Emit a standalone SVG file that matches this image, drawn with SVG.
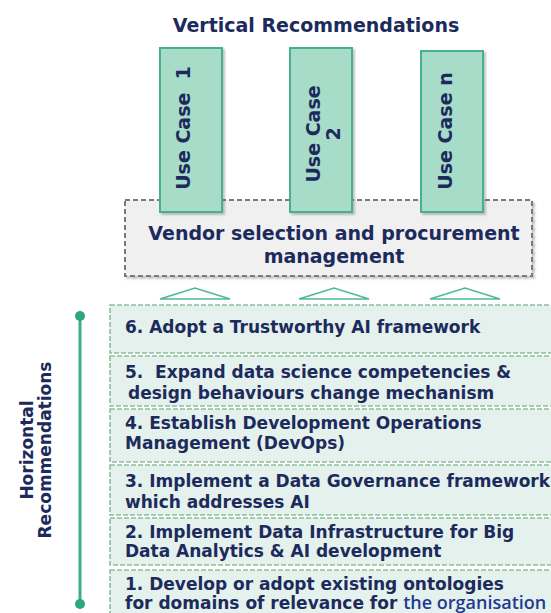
<svg xmlns="http://www.w3.org/2000/svg" width="551" height="613" viewBox="0 0 551 613">
  <defs>
    <filter id="shadow" x="-10%" y="-10%" width="130%" height="130%">
      <feDropShadow dx="2" dy="2" stdDeviation="1.2" flood-color="#555" flood-opacity="0.35"/>
    </filter>
    <style>
      .lbl { font-family: "DejaVu Sans", Verdana, sans-serif; font-weight: bold; fill: #1c2a5c; }
      .title { font-size: 19px; }
      .uc { font-size: 19px; }
      .bar-text { font-size: 17px; white-space: pre; }
      .side { font-size: 17px; }
      .usecase { fill: #a7dcc8; stroke: #46b08e; stroke-width: 2; }
      .vendor { fill: #f0f0f0; stroke: #7a7a7a; stroke-width: 2; stroke-dasharray: 5 3; }
      .bar { fill: #e4f1ed; stroke: #8cbf9c; stroke-width: 1.6; stroke-dasharray: 5 2; }
      .tri { fill: #ffffff; stroke: #4db89a; stroke-width: 1.6; }
      .axis { stroke: #3cae8c; stroke-width: 3; }
      .dot { fill: #2fa582; }
      .org { font-family: "Open Sans", "Liberation Sans", sans-serif; font-weight: 600; font-size: 18px; fill: #1f3a93; }
    </style>
  </defs>

  <rect width="551" height="613" fill="#ffffff"/>

  <!-- heading -->
  <text class="lbl title" x="316" y="32" text-anchor="middle">Vertical Recommendations</text>

  <!-- procurement layer -->
  <g id="vendor">
    <rect class="vendor" x="125" y="200" width="407" height="76" filter="url(#shadow)"/>
    <text class="lbl title" x="334" y="240" text-anchor="middle">Vendor selection and procurement</text>
    <text class="lbl title" x="334" y="263" text-anchor="middle">management</text>
  </g>

  <!-- vertical use cases -->
  <g id="usecase1">
    <rect class="usecase" x="160" y="48" width="62" height="164" filter="url(#shadow)"/>
    <text class="lbl uc" transform="translate(190,128) rotate(-90)" text-anchor="middle" xml:space="preserve">Use Case  1</text>
  </g>
  <g id="usecase2">
    <rect class="usecase" x="290" y="48" width="62" height="164" filter="url(#shadow)"/>
    <text class="lbl uc" transform="translate(320,134) rotate(-90)" text-anchor="middle">Use Case</text>
    <text class="lbl uc" transform="translate(340,134) rotate(-90)" text-anchor="middle">2</text>
  </g>
  <g id="usecasen">
    <rect class="usecase" x="421" y="51" width="62" height="161" filter="url(#shadow)"/>
    <text class="lbl uc" transform="translate(452,131) rotate(-90)" text-anchor="middle">Use Case n</text>
  </g>

  <!-- connectors -->
  <g id="connectors">
    <polygon class="tri" points="160,299 195,288 230,299"/>
    <polygon class="tri" points="299,299 334,288 369,299"/>
    <polygon class="tri" points="430,299 465,288 500,299"/>
    <line class="axis" x1="80" y1="316" x2="80" y2="604"/>
    <circle class="dot" cx="80" cy="316" r="5"/>
    <circle class="dot" cx="80" cy="604" r="5"/>
  </g>

  <!-- side label -->
  <g id="horizontal-label">
    <text class="lbl side" transform="translate(33,450) rotate(-90)" text-anchor="middle">Horizontal</text>
    <text class="lbl side" transform="translate(51,450) rotate(-90)" text-anchor="middle">Recommendations</text>
  </g>

  <!-- horizontal layers -->
  <g id="layer6">
    <rect class="bar" x="110" y="305" width="460" height="48"/>
    <text class="lbl bar-text" x="125" y="333">6. Adopt a Trustworthy AI framework</text>
  </g>
  <g id="layer5">
    <rect class="bar" x="110" y="356" width="460" height="50"/>
    <text class="lbl bar-text" x="125" y="378">5.  Expand data science competencies &amp;</text>
    <text class="lbl bar-text" x="128" y="399">design behaviours change mechanism</text>
  </g>
  <g id="layer4">
    <rect class="bar" x="110" y="409" width="460" height="53"/>
    <text class="lbl bar-text" x="125" y="429">4. Establish Development Operations</text>
    <text class="lbl bar-text" x="125" y="449">Management (DevOps)</text>
  </g>
  <g id="layer3">
    <rect class="bar" x="110" y="465" width="460" height="50"/>
    <text class="lbl bar-text" x="125" y="487">3. Implement a Data Governance framework</text>
    <text class="lbl bar-text" x="125" y="508">which addresses AI</text>
  </g>
  <g id="layer2">
    <rect class="bar" x="110" y="518" width="460" height="47"/>
    <text class="lbl bar-text" x="125" y="538">2. Implement Data Infrastructure for Big</text>
    <text class="lbl bar-text" x="125" y="557">Data Analytics &amp; AI development</text>
  </g>
  <g id="layer1">
    <rect class="bar" x="110" y="570" width="460" height="60"/>
    <text class="lbl bar-text" x="125" y="590">1. Develop or adopt existing ontologies</text>
    <text x="125" y="609"><tspan class="lbl bar-text">for domains of relevance for </tspan><tspan class="org">the organisation</tspan></text>
  </g>
</svg>
